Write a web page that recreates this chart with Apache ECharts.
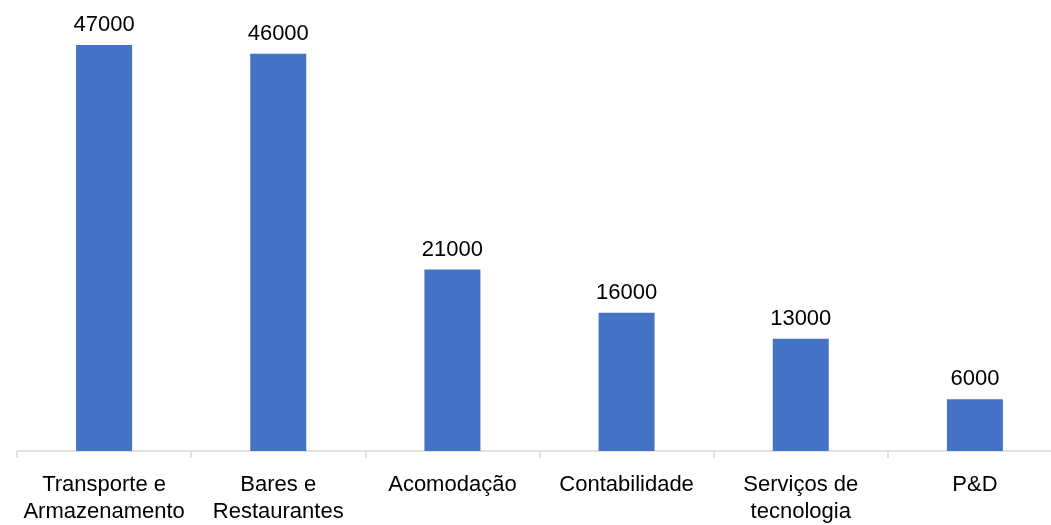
<!DOCTYPE html>
<html>
<head>
<meta charset="utf-8">
<script src="https://cdn.jsdelivr.net/npm/echarts@6/dist/echarts.min.js"></script>
<style>html,body{margin:0;padding:0;background:#fff;overflow:hidden;width:1051px;height:525px;}#c{width:1062px;height:525px;}</style>
</head>
<body>
<div id="c"></div>
<script>
const categories = ['Transporte e\nArmazenamento', 'Bares e\nRestaurantes', 'Acomodação', 'Contabilidade', 'Serviços de\ntecnologia', 'P&D'];
const values = [47000, 46000, 21000, 16000, 13000, 6000];

const FONT = "'Liberation Sans', Arial, sans-serif";
const chart = echarts.init(document.getElementById('c'), null, {renderer: 'canvas'});
chart.setOption({
  animation: false,
  grid: {left: 17, top: 45, right: 0, height: 406, containLabel: false},
  xAxis: {
    type: 'category',
    data: categories,
    axisLine: {show: true, lineStyle: {color: '#d9d9d9', width: 1.5}},
    axisTick: {show: true, length: 7, lineStyle: {color: '#d9d9d9', width: 1.5}},
    axisLabel: {color: '#000', fontFamily: FONT, fontSize: 22, lineHeight: 27, margin: 20, interval: 0}
  },
  yAxis: {
    type: 'value', min: 0, max: 47000, show: false,
    splitLine: {show: false}
  },
  series: [{
    type: 'bar',
    data: values,
    barWidth: 56,
    itemStyle: {color: '#4472C4'},
    label: {show: true, position: 'top', distance: 9, color: '#000', fontFamily: FONT, fontSize: 22}
  }]
});
</script>
</body>
</html>
